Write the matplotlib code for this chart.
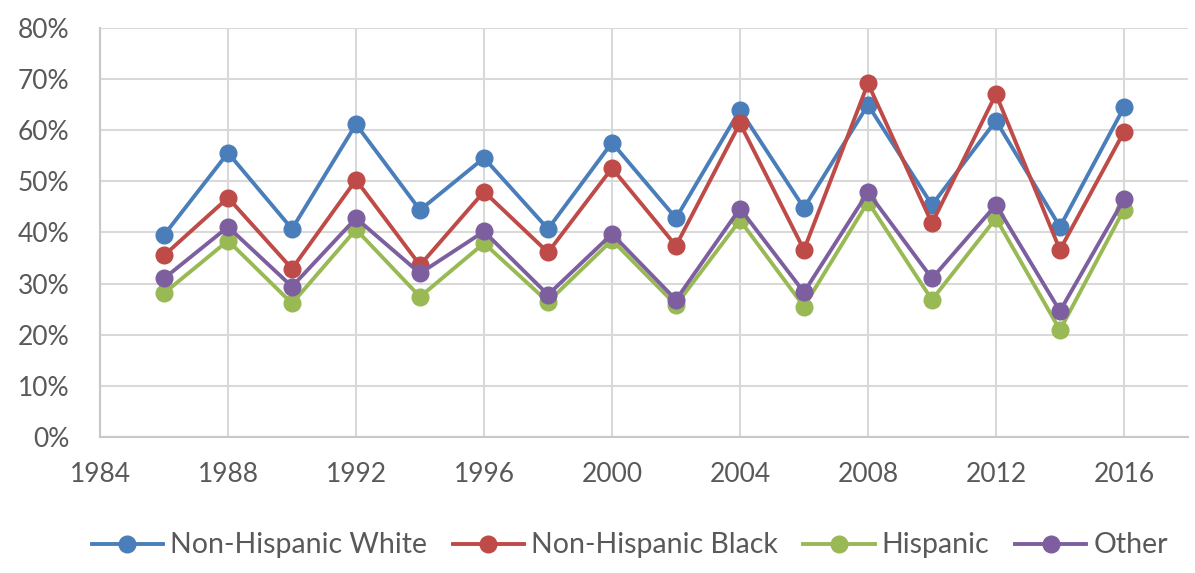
import numpy as np
import matplotlib.pyplot as plt

years = [1986, 1988, 1990, 1992, 1994, 1996, 1998, 2000,
         2002, 2004, 2006, 2008, 2010, 2012, 2014, 2016]
white = [39.5, 55.6, 40.7, 61.2, 44.4, 54.6, 40.7, 57.6,
         42.8, 64.0, 44.8, 65.0, 45.4, 61.9, 41.1, 64.5]
black = [35.5, 46.8, 32.9, 50.3, 33.6, 48.0, 36.1, 52.6,
         37.4, 61.4, 36.6, 69.2, 41.8, 67.1, 36.6, 59.7]
hispanic = [28.1, 38.4, 26.1, 40.6, 27.4, 37.9, 26.4, 38.5,
            25.8, 42.4, 25.5, 46.0, 26.8, 42.8, 20.9, 44.5]
other = [31.0, 41.1, 29.4, 42.8, 32.0, 40.2, 27.8, 39.7,
         26.8, 44.7, 28.3, 47.9, 31.0, 45.4, 24.6, 46.5]

names = ["Non-Hispanic White", "Non-Hispanic Black", "Hispanic", "Other"]
colors = ["#4A7EBB", "#BE4B48", "#98B954", "#7D5FA0"]

plt.rcParams['font.family'] = ['Lato', 'DejaVu Sans']

fig = plt.figure(figsize=(11.95, 5.73), dpi=100)
ax = fig.add_axes([0.0837, 0.2379, 0.9104, 0.7127])

for vals, name, c in zip([white, black, hispanic, other], names, colors):
    ax.plot(years, vals, color=c, lw=2.8, marker='o', ms=12, label=name)

ax.set_xlim(1984, 2018)
ax.set_ylim(0, 80)
ax.set_xticks(np.arange(1984, 2017, 4))
ax.set_yticks(np.arange(0, 81, 10))
ax.set_yticklabels([f"{v}%" for v in range(0, 81, 10)])
ax.grid(True, color='#d9d9d9', lw=1.5)
ax.set_axisbelow(True)
for s in ['top', 'right']:
    ax.spines[s].set_visible(False)
for s in ['left', 'bottom']:
    ax.spines[s].set_color('#c8c8c8')
    ax.spines[s].set_linewidth(1.5)
ax.tick_params(axis='both', length=0, labelsize=19, labelcolor='#595959')
ax.tick_params(axis='y', pad=22)
ax.tick_params(axis='x', pad=18)

fig.legend(loc='center', bbox_to_anchor=(0.527, 0.048), ncol=4, frameon=False,
           fontsize=20.5, handlelength=2.5, handletextpad=0.25, columnspacing=0.9,
           labelcolor='#595959')

plt.savefig("out.png", dpi=100)
